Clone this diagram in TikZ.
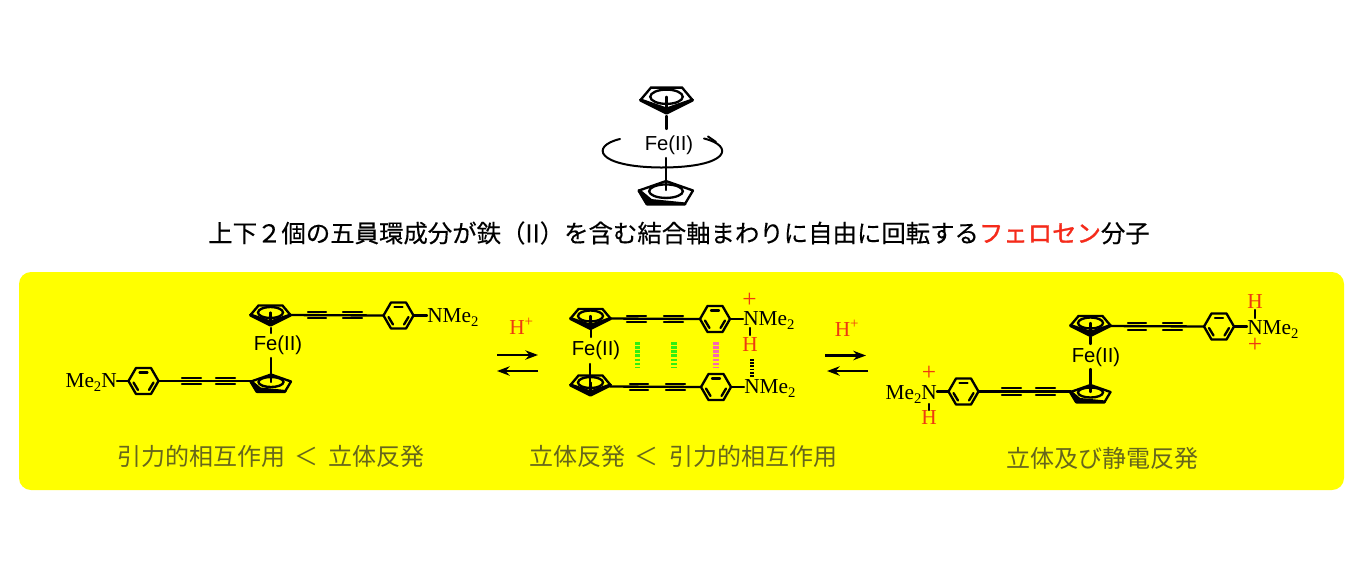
\documentclass[tikz,border=0pt]{standalone}
\usepackage{fontspec}
\setmainfont{Liberation Serif}
\setsansfont{Liberation Sans}
\newfontfamily\cjk[FakeBold=0.3]{Noto Sans CJK JP}
\newfontfamily\cjkred[FakeBold=1.2]{Noto Sans CJK JP}
\newfontfamily\cjklab{Noto Sans CJK JP}
\usetikzlibrary{arrows.meta}
\definecolor{pureyellow}{RGB}{255,255,0}
\definecolor{hred}{HTML}{EE3A10}
\definecolor{tred}{HTML}{F52A1A}
\definecolor{lab}{HTML}{66661C}
\definecolor{dgreen}{HTML}{30F010}
\definecolor{dpink}{HTML}{F868B0}
\tikzset{
  x=0.75pt,y=-0.75pt,
  chem/.style={line width=1.75pt,black,line cap=round},
  thickb/.style={line width=2.4pt,black,line join=round,line cap=round},
  fe/.style={font=\sffamily\fontsize{15.2}{15}\selectfont,inner sep=0pt,text=black},
  atom/.style={font=\fontsize{16}{16}\selectfont,inner sep=0pt,anchor=base west,text=black},
  atomr/.style={font=\fontsize{16}{16}\selectfont,inner sep=0pt,anchor=base east,text=black},
  redt/.style={font=\fontsize{16}{16}\selectfont,inner sep=0pt,text=hred},
  plust/.style={font=\fontsize{19}{19}\selectfont,inner sep=0pt,text=hred},
  title/.style={font=\cjk\fontsize{18.3}{18}\selectfont,inner sep=0pt,text=black},
  jlab/.style={font=\cjklab\fontsize{18}{18}\selectfont,inner sep=0pt,text=lab},
  eqarrow/.style={line width=1.7pt,-{Stealth[length=9.5pt,width=7pt]}},
  hbar/.style={line width=4.2pt,dash pattern=on 2pt off 1.1pt},
}
\newcommand{\subtwo}{\raisebox{-3pt}{\fontsize{11}{11}\selectfont 2}}
\newcommand{\ltgap}{\hspace{7.5pt}＜\hspace{7.5pt}}
\newcommand{\cpdown}[4][1]{%
 \begin{scope}[shift={(#2,#3)},xscale=#1,yscale=#1]
  \draw[chem] (-20,0) -- (-12,-9.5) -- (12,-9.5) -- (20,0);
  \draw[thickb,fill=black] (-20,0) -- (0,10) -- (20,0) -- (0,7) -- cycle;
  \draw[chem] (0,-2.5) ellipse [x radius=12.5,y radius=5.5];
  \draw[chem] (0,-2.5) -- (0,9);
 \end{scope}}
\newcommand{\cpflat}[4][1]{%
 \begin{scope}[shift={(#2,#3)},xscale=#1,yscale=#1]
  \draw[chem] (-20,0) -- (0,-7) -- (20,0);
  \draw[chem] (-20,0) -- (-14,10);
  \draw[chem] (20,0) -- (14,10);
  \draw[thickb,fill=black] (-20,0) -- (-14,10) -- (14,10) -- (-11,7.5) -- cycle;
  \draw[chem] (0,0.5) ellipse [x radius=12.5,y radius=5];
 \end{scope}}
\newcommand{\benz}[2]{%
 \begin{scope}[shift={(#1,#2)}]
  \draw[chem,line join=round] (-15,0) -- (-7.5,-13) -- (7.5,-13) -- (15,0) -- (7.5,13) -- (-7.5,13) -- cycle;
  \draw[chem] (-4,-8.5) -- (4,-8.5);
  \draw[chem] (-10,1.5) -- (-5.5,9);
  \draw[chem] (10,1.5) -- (5.5,9);
 \end{scope}}
\newcommand{\tripleb}[3]{%
  \draw[chem] (#1,#3-3.2) -- (#2,#3-3.2);
  \draw[chem] (#1,#3+3.2) -- (#2,#3+3.2);}
\begin{document}
\begin{tikzpicture}
\useasboundingbox (0,0) rectangle (1362,565);
\fill[white] (0,0) rectangle (1362,565);
\fill[pureyellow,rounded corners=9pt] (19,272) rectangle (1344,490);

%% top ferrocene
\cpdown[1.3]{666.5}{100}{}
\node[fe] (fe0) at (669,145) {Fe(II)};
\draw[chem] (666.5,116) -- (666.5,129);
\draw[chem,line width=1.5pt] (620,139) .. controls (590,146) and (596,167) .. (661,167.5)
   .. controls (730,167.5) and (735,146) .. (704,138.5);
\draw[chem,line width=1.5pt] (716,142) -- (708,136.5);
\draw[chem] (666,158) -- (666,190);
\cpflat[1.35]{666}{190.5}{}

\node[title,anchor=west] (ttl) at (208,233) {上下２個の五員環成分が鉄（II）を含む結合軸まわりに自由に回転する{\cjkred\color{tred}フェロセン}分子};

%% structure 1
\cpdown{270.5}{315}{}
\draw[chem] (290,315) -- (384,315.5);
\tripleb{308}{326}{315}
\tripleb{343}{362}{315}
\benz{398.5}{315.5}
\draw[chem] (413,315.5) -- (427,315.5);
\node[atom] (n1a) at (427,322.5) {NMe\subtwo};
\node[fe] (fe1) at (278,345) {Fe(II)};
\draw[chem] (271,328) -- (271,333);
\draw[chem] (271,358) -- (271,382);
\cpflat{271}{381.5}{}
\benz{143.5}{381}
\draw[chem] (158,381) -- (251,381);
\tripleb{182}{201}{381}
\tripleb{216}{235}{381}
\draw[chem] (117,381) -- (128,381);
\node[atomr] (n1b) at (117,387.5) {Me\subtwo N};

%% arrows 1
\node[redt] (hp1) at (521.5,326) {H\textsuperscript{+}};
\coordinate (a1) at (497,355); \coordinate (a2) at (538,355);
\coordinate (a3) at (538,371); \coordinate (a4) at (497,371);
\draw[eqarrow] (a1) -- (a2);
\draw[eqarrow] (a3) -- (a4);

%% structure 2
\cpdown{590.5}{318.5}{}
\draw[chem] (610,318.5) -- (700,319);
\tripleb{627}{646}{319}
\tripleb{664}{683}{319}
\benz{715}{319}
\draw[chem] (730,319) -- (743,319);
\node[atom] (n2a) at (743,325.5) {NMe\subtwo};
\node[plust] (p2) at (749.5,300.5) {+};
\draw[chem] (750,328) -- (750,335);
\node[redt] (h2) at (750,345) {H};
\node[fe] (fe2) at (596,350) {Fe(II)};
\draw[chem] (591,330) -- (591,337);
\draw[chem] (590,364) -- (590,382);
\cpdown{590.5}{385}{}
\draw[chem] (610,386.5) -- (701,387);
\tripleb{630}{648}{387}
\tripleb{666}{685}{387}
\benz{716}{387}
\draw[chem] (731,387) -- (744,387);
\node[atom] (n2b) at (744,393) {NMe\subtwo};
\draw[hbar,dgreen] (637.5,342) -- (637.5,367);
\draw[hbar,dgreen] (674,342) -- (674,368);
\draw[hbar,dpink] (716,342) -- (716,367);
\draw[line width=3pt,black,dash pattern=on 1.3pt off 1.1pt] (752,359) -- (752,377);

%% arrows 2
\node[redt] (hp2) at (847,328) {H\textsuperscript{+}};
\coordinate (b1) at (825,355.5); \coordinate (b2) at (866,355.5);
\coordinate (b3) at (868,371); \coordinate (b4) at (827,371);
\draw[eqarrow] (b1) -- (b2);
\draw[eqarrow] (b3) -- (b4);

%% structure 3
\cpdown{1090.5}{325.5}{}
\draw[chem] (1110,326) -- (1204,326.5);
\tripleb{1128}{1146}{326.5}
\tripleb{1163}{1182}{326.5}
\benz{1219}{326.5}
\draw[chem] (1234,326.5) -- (1247,326.5);
\node[atom] (n3a) at (1247,334) {NMe\subtwo};
\node[redt] (h3a) at (1255,302) {H};
\draw[chem] (1255,310) -- (1255,318);
\node[plust] (p3a) at (1255,345) {+};
\node[fe] (fe3) at (1096,357.5) {Fe(II)};
\draw[chem] (1090.5,337) -- (1090.5,344);
\draw[chem] (1090.5,369) -- (1090.5,392);
\cpflat{1090.5}{392}{}
\benz{963.5}{391.5}
\draw[chem] (978,391.5) -- (1071,391.5);
\tripleb{1002}{1021}{391.5}
\tripleb{1036}{1055}{391.5}
\draw[chem] (937,391.5) -- (948,391.5);
\node[atomr] (n3b) at (937,399) {Me\subtwo N};
\node[plust] (p3b) at (929,373.5) {+};
\draw[chem] (929,404) -- (929,410);
\node[redt] (h3b) at (929,418) {H};

%% labels
\node[jlab] (l1) at (271,456) {引力的相互作用\ltgap 立体反発};
\node[jlab] (l2) at (683,456) {立体反発\ltgap 引力的相互作用};
\node[jlab] (l3) at (1102,458) {立体及び静電反発};
\end{tikzpicture}
\end{document}
